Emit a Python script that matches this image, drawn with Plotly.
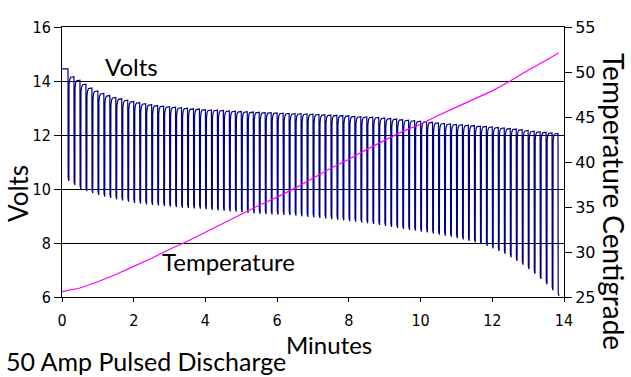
import plotly.graph_objects as go

# ---------------- data ----------------
INITIAL_VOLTS = 14.45          # resting voltage before the first pulse
PULSE_PERIOD_S = 10            # one load pulse every 10 seconds

# resting (recovered) voltage after each pulse, pulses 1..82
rest_volts = [
    14.16, 14.03, 13.88, 13.74, 13.63, 13.54, 13.46, 13.39, 13.34, 13.29,
    13.24, 13.20, 13.16, 13.12, 13.09, 13.07, 13.05, 13.03, 13.01, 12.99,
    12.97, 12.96, 12.94, 12.93, 12.92, 12.91, 12.89, 12.88, 12.87, 12.86,
    12.85, 12.84, 12.83, 12.83, 12.82, 12.81, 12.80, 12.79, 12.79, 12.78,
    12.77, 12.76, 12.75, 12.74, 12.73, 12.72, 12.71, 12.69, 12.68, 12.67,
    12.66, 12.65, 12.63, 12.61, 12.59, 12.57, 12.55, 12.53, 12.51, 12.49,
    12.47, 12.45, 12.43, 12.41, 12.39, 12.38, 12.36, 12.35, 12.33, 12.32,
    12.30, 12.28, 12.26, 12.24, 12.22, 12.20, 12.17, 12.14, 12.12, 12.10,
    12.08, 12.06,
]

# loaded (minimum) voltage during each pulse, pulses 1..83
low_volts = [
    10.30, 10.15, 10.00, 9.92, 9.85, 9.78, 9.72, 9.67, 9.62, 9.57,
    9.53, 9.49, 9.46, 9.43, 9.41, 9.39, 9.37, 9.35, 9.33, 9.31,
    9.30, 9.28, 9.27, 9.25, 9.23, 9.21, 9.19, 9.17, 9.16, 9.14,
    9.12, 9.10, 9.08, 9.07, 9.06, 9.05, 9.04, 9.03, 9.01, 8.99,
    8.97, 8.95, 8.93, 8.91, 8.88, 8.86, 8.84, 8.81, 8.79, 8.76,
    8.73, 8.70, 8.67, 8.63, 8.60, 8.56, 8.52, 8.49, 8.46, 8.42,
    8.39, 8.35, 8.31, 8.27, 8.23, 8.18, 8.13, 8.08, 8.02, 7.96,
    7.89, 7.80, 7.70, 7.60, 7.47, 7.34, 7.19, 7.03, 6.86, 6.67,
    6.47, 6.25, 6.04,
]

# temperature curve
temp_minutes = [0, 0.5, 1, 1.5, 2, 2.5, 3, 3.5, 4, 4.5, 5, 5.5, 6, 6.5, 7,
                7.5, 8, 8.5, 9, 9.5, 10, 10.5, 11, 11.5, 12, 12.5, 13, 13.5, 13.85]
temp_c = [25.6, 26.0, 26.7, 27.5, 28.4, 29.3, 30.3, 31.2, 32.2, 33.2, 34.2,
          35.2, 36.1, 37.1, 38.2, 39.3, 40.3, 41.4, 42.4, 43.4, 44.2, 45.2,
          46.1, 47.0, 47.9, 49.0, 50.2, 51.3, 52.1]

minute_ticks = [0, 2, 4, 6, 8, 10, 12, 14]
volt_ticks = [6, 8, 10, 12, 14, 16]
temp_ticks = [25, 30, 35, 40, 45, 50, 55]

# shape of a single pulse (seconds after pulse start, offset in volts)
SAG_START = (0.3, 0.12)           # just after the drop, relative to the low value
LOW_END_S = 1.5                   # end of the load period
RECOVERY = [(1.8, -0.30), (2.8, -0.10), (4.5, -0.02), (7.0, 0.0)]  # relative to rest value

# ---------------- build the pulsed waveform ----------------
t_s = [0.0]
volts = [INITIAL_VOLTS]
prev = INITIAL_VOLTS
n_pulses = len(low_volts)
for k in range(n_pulses):
    t0 = (k + 1) * PULSE_PERIOD_S
    t_s.append(t0)
    volts.append(prev)
    t_s.append(t0 + SAG_START[0])
    volts.append(low_volts[k] + SAG_START[1])
    t_s.append(t0 + LOW_END_S)
    volts.append(low_volts[k])
    if k < len(rest_volts):
        r = rest_volts[k]
        for dt, off in RECOVERY:
            t_s.append(t0 + dt)
            volts.append(r + off)
        prev = r
minutes = [s / 60.0 for s in t_s]

NARROW = "Liberation Sans Narrow, DejaVu Sans Condensed, Arial Narrow, sans-serif"
TITLE = "Lato, Open Sans, sans-serif"

fig = go.Figure()
fig.add_trace(go.Scatter(x=minutes, y=volts, mode="lines",
                         line=dict(color="#000080", width=1.2),
                         xaxis="x", yaxis="y", hoverinfo="skip"))
fig.add_trace(go.Scatter(x=temp_minutes, y=temp_c, mode="lines",
                         line=dict(color="#FF00FF", width=1.2),
                         xaxis="x", yaxis="y2", hoverinfo="skip"))

fig.update_layout(
    width=631, height=377,
    margin=dict(l=62, r=67, t=27, b=80, pad=0),
    paper_bgcolor="white", plot_bgcolor="white",
    showlegend=False,
    xaxis=dict(range=[0, 14], tickvals=minute_ticks, ticks="outside", ticklen=4,
               tickcolor="black", tickwidth=1, showline=True, linecolor="black",
               linewidth=1, mirror=True, showgrid=False, zeroline=False,
               ticklabelstandoff=5,
               tickfont=dict(family=NARROW, size=16, color="black")),
    yaxis=dict(range=[6, 16], tickvals=volt_ticks, ticks="outside", ticklen=7,
               tickcolor="black", tickwidth=1, showline=True, linecolor="black",
               linewidth=1, showgrid=True, gridcolor="black", gridwidth=1,
               zeroline=False,
               tickfont=dict(family=NARROW, size=16, color="black")),
    yaxis2=dict(range=[25, 55], tickvals=temp_ticks, overlaying="y", side="right",
                anchor="x", ticks="outside", ticklen=7, tickcolor="black",
                tickwidth=1, showline=True, linecolor="black", linewidth=1,
                showgrid=False, zeroline=False,
                tickfont=dict(family="DejaVu Sans", size=16, color="black")),
    xaxis2=dict(range=[0, 14], tickvals=minute_ticks, overlaying="x", anchor="y",
                side="bottom", ticks="inside", ticklen=4, tickcolor="black",
                showticklabels=False, showline=False, showgrid=False, zeroline=False),
    yaxis3=dict(range=[25, 55], tickvals=temp_ticks, overlaying="y", side="right",
                anchor="x", ticks="inside", ticklen=7, tickcolor="black",
                showticklabels=False, showline=False, showgrid=False, zeroline=False),
)

def px_x(px):
    return (px - 62) / 502.0

def px_y(py):
    return (297 - py) / 270.0

annotations = [
    dict(text="Volts", x=px_x(131.5), y=px_y(66), xanchor="center", yanchor="middle",
         font=dict(family=TITLE, size=24, color="black")),
    dict(text="Temperature", x=px_x(228), y=px_y(261.5), xanchor="center", yanchor="middle",
         font=dict(family=TITLE, size=24, color="black")),
    dict(text="Minutes", x=px_x(329), y=px_y(344), xanchor="center", yanchor="middle",
         font=dict(family=TITLE, size=24, color="black")),
    dict(text="50 Amp Pulsed Discharge", x=px_x(4), y=px_y(361), xanchor="left",
         yanchor="middle", font=dict(family=TITLE, size=25, color="black")),
    dict(text="Volts", x=px_x(18), y=px_y(194), xanchor="center", yanchor="middle",
         textangle=-90, font=dict(family=TITLE, size=26, color="black")),
    dict(text="Temperature Centigrade", x=px_x(614), y=px_y(201), xanchor="center",
         yanchor="middle", textangle=90, font=dict(family=TITLE, size=28, color="black")),
]
for a in annotations:
    a.update(xref="paper", yref="paper", showarrow=False)
fig.update_layout(annotations=annotations)

# remove the browser's default page margin so the figure sits at the window origin
fig.write_html("out.html",
               config={"displayModeBar": False},
               post_script="document.body.style.margin='0';document.body.style.overflow='hidden';")
